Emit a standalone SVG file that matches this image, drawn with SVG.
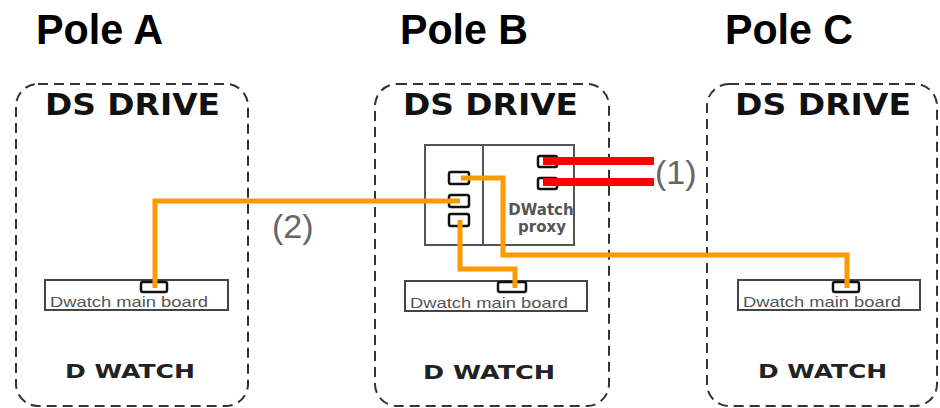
<svg xmlns="http://www.w3.org/2000/svg" width="940" height="408" viewBox="0 0 940 408">
<style>
.title{font-family:"Liberation Sans",Arial,sans-serif;font-weight:bold;font-size:43px;fill:#000}
.pole{fill:none;stroke:#333;stroke-width:2;stroke-dasharray:10,6}
.ds{font-family:"DejaVu Sans",sans-serif;font-weight:bold;font-size:31px;fill:#111}
.dw{font-family:"DejaVu Sans",sans-serif;font-weight:bold;font-size:20px;fill:#222}
.board{fill:#fff;stroke:#444;stroke-width:2}
.bt{font-family:"Liberation Sans",Arial,sans-serif;font-size:15px;fill:#555}
.port{fill:#fff;stroke:#111;stroke-width:2.5}
.mod{fill:#fff;stroke:#555;stroke-width:2}
.px{font-family:"DejaVu Sans",sans-serif;font-weight:bold;font-size:15px;fill:#555}
.wire{fill:none;stroke:#FF9900;stroke-width:5;stroke-linejoin:miter}
.red{fill:none;stroke:#FF0000;stroke-width:8}
.lbl{font-family:"Liberation Sans",Arial,sans-serif;font-size:34px;fill:#666}
</style>
<rect width="940" height="408" fill="#fff"/>
<g id="poleA">
<text class="title" x="36" y="44" textLength="127" lengthAdjust="spacingAndGlyphs">Pole A</text>
<rect class="pole" x="16" y="84" width="232" height="322" rx="22"/>
<text class="ds" x="45" y="115" textLength="175" lengthAdjust="spacingAndGlyphs">DS DRIVE</text>
<rect class="board" x="45" y="280" width="183" height="30"/>
<rect class="port" x="141" y="282" width="26" height="10" rx="2"/>
<text class="bt" x="50" y="307" textLength="158" lengthAdjust="spacingAndGlyphs">Dwatch main board</text>
<text class="dw" x="65" y="378" textLength="130" lengthAdjust="spacingAndGlyphs">D WATCH</text>
</g>
<g id="poleB">
<text class="title" x="400" y="44" textLength="128" lengthAdjust="spacingAndGlyphs">Pole B</text>
<rect class="pole" x="375" y="84" width="234" height="322" rx="22"/>
<text class="ds" x="403" y="115" textLength="175" lengthAdjust="spacingAndGlyphs">DS DRIVE</text>
<rect class="board" x="405" y="281" width="182" height="30"/>
<rect class="port" x="498" y="282" width="28" height="10" rx="2"/>
<text class="bt" x="410" y="308" textLength="158" lengthAdjust="spacingAndGlyphs">Dwatch main board</text>
<text class="dw" x="423" y="379" textLength="132" lengthAdjust="spacingAndGlyphs">D WATCH</text>
</g>
<g id="proxy">
<rect class="mod" x="425" y="145" width="149" height="100"/>
<line x1="483" y1="145" x2="483" y2="245" stroke="#555" stroke-width="2"/>
<rect class="port" x="449" y="172" width="20" height="12" rx="2"/>
<rect class="port" x="449" y="195" width="20" height="12" rx="2"/>
<rect class="port" x="449" y="214" width="20" height="12" rx="2"/>
<rect class="port" x="538" y="156" width="19" height="11" rx="2"/>
<rect class="port" x="538" y="178" width="19" height="11" rx="2"/>
<text class="px" x="541" y="215" text-anchor="middle">DWatch</text>
<text class="px" x="542" y="232" text-anchor="middle">proxy</text>
</g>
<g id="poleC">
<text class="title" x="725" y="44" textLength="128" lengthAdjust="spacingAndGlyphs">Pole C</text>
<rect class="pole" x="707" y="84" width="230" height="322" rx="22"/>
<text class="ds" x="735" y="115" textLength="176" lengthAdjust="spacingAndGlyphs">DS DRIVE</text>
<rect class="board" x="738" y="280" width="182" height="30"/>
<rect class="port" x="833" y="282" width="26" height="10" rx="2"/>
<text class="bt" x="743" y="307" textLength="158" lengthAdjust="spacingAndGlyphs">Dwatch main board</text>
<text class="dw" x="758" y="378" textLength="129" lengthAdjust="spacingAndGlyphs">D WATCH</text>
</g>
<g id="connectors">
<polyline class="wire" points="155,288 155,201 460,201"/>
<polyline class="wire" points="461,178 503,178 503,255 847,255 847,288"/>
<polyline class="wire" points="460,220 460,269 515,269 515,288"/>
<line class="red" x1="543" y1="161" x2="654" y2="161"/>
<line class="red" x1="543" y1="182" x2="654" y2="182"/>
<text class="lbl" x="655" y="184">(1)</text>
<text class="lbl" x="272" y="238">(2)</text>
</g>
</svg>
